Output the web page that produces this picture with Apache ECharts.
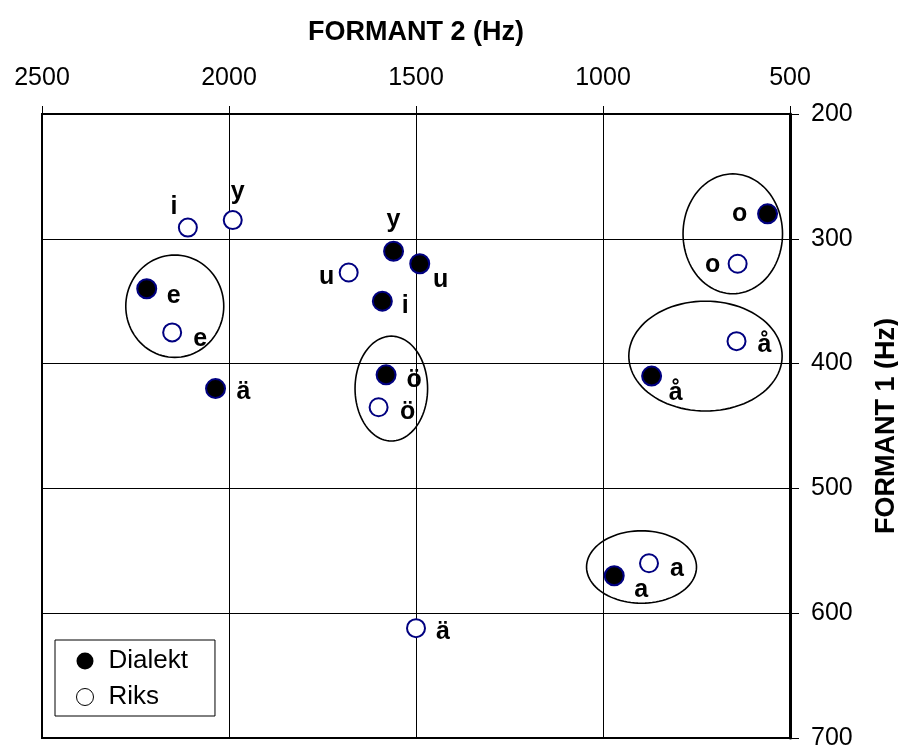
<!DOCTYPE html>
<html>
<head>
<meta charset="utf-8">
<script src="https://cdn.jsdelivr.net/npm/echarts@6/dist/echarts.min.js"></script>
<style>
  html, body { margin: 0; padding: 0; background: #fff; }
  #main { width: 898px; height: 749px; }
</style>
</head>
<body>
<div id="main"></div>
<script>
// Dialekt (filled)
var dialektVowels = ['o', 'y', 'u', 'e', 'i', 'ö', 'ä', 'å', 'a'];
var dialektF2 = [560, 1560, 1490, 2220, 1590, 1580, 2036, 870, 970];
var dialektF1 = [280, 310, 320, 340, 350, 409, 420, 410, 570];
// Riks (open)
var riksVowels = ['i', 'y', 'o', 'u', 'e', 'å', 'ö', 'a', 'ä'];
var riksF2 = [2110, 1990, 640, 1680, 2152, 643, 1600, 877, 1500];
var riksF1 = [291, 285, 320, 327, 375, 382, 435, 560, 612];
// ellipses round the pairs (centre and radii in Hz)
var groupF2 = [2145, 1566, 653, 726, 897];
var groupF1 = [354, 420, 296, 394, 563];
var groupRx = [131, 97, 133, 205, 147];
var groupRy = [41, 42, 48, 44, 29];
// tick labels
var f2Ticks = [2500, 2000, 1500, 1000, 500];
var f1Ticks = [200, 300, 400, 500, 600, 700];

// label offsets (px) from each point
var dialektOffsets = [[-28, 0], [0, -31], [21, 16], [27, 7], [23, 5], [28, 5], [28, 4], [24, 17], [27, 14]];
var riksOffsets = [[-14, -20], [5, -28], [-25, 1], [-22, 5], [28, 7], [28, 4], [29, 5], [28, 6], [27, 4]];

var FONT = 'Liberation Sans, Arial, sans-serif';
var labelFont = { fontFamily: FONT, fontWeight: 'bold', fontSize: 25, color: '#000' };

function buildPoints(f2, f1, names, offsets) {
  return f2.map(function (x, i) {
    return {
      value: [x, f1[i]],
      name: names[i],
      label: { offset: offsets[i] }
    };
  });
}

var chart = echarts.init(document.getElementById('main'));
var option = {
  animation: false,
  backgroundColor: '#fff',
  grid: {
    left: 42, right: 108, top: 114, bottom: 11,
    outerBoundsMode: 'none',
    containLabel: false,
    show: true, borderColor: '#000', borderWidth: 2, backgroundColor: '#fff'
  },
  legend: {
    orient: 'vertical',
    left: 55, top: 640,
    padding: [8, 27, 6, 21],
    itemGap: 10,
    itemWidth: 17, itemHeight: 17,
    backgroundColor: '#fff',
    borderColor: '#000', borderWidth: 1,
    textStyle: { fontFamily: FONT, fontSize: 26, color: '#000', padding: [0, 0, 0, 10] },
    data: [
      { name: 'Dialekt', icon: 'circle', itemStyle: { color: '#000', borderColor: '#000', borderWidth: 0 } },
      { name: 'Riks', icon: 'circle', itemStyle: { color: '#fff', borderColor: '#000', borderWidth: 1 } }
    ]
  },
  xAxis: {
    type: 'value', position: 'top', inverse: true,
    min: 500, max: 2500, interval: 500,
    name: 'FORMANT 2 (Hz)', nameLocation: 'middle', nameGap: 68,
    nameTextStyle: { fontFamily: FONT, fontWeight: 'bold', fontSize: 27, color: '#000' },
    axisLine: { show: true, lineStyle: { color: '#000', width: 2 } },
    axisTick: { show: true, length: 8, lineStyle: { color: '#000', width: 1 } },
    axisLabel: {
      margin: 23, fontFamily: FONT, fontSize: 25, color: '#000',
      formatter: function (v) { return f2Ticks.indexOf(v) >= 0 ? String(v) : ''; }
    },
    splitLine: { show: true, lineStyle: { color: '#000', width: 1 } }
  },
  yAxis: {
    type: 'value', position: 'right', inverse: true,
    min: 200, max: 700, interval: 100,
    name: 'FORMANT 1 (Hz)', nameLocation: 'middle', nameGap: 83, nameRotate: 90,
    nameTextStyle: { fontFamily: FONT, fontWeight: 'bold', fontSize: 27, color: '#000' },
    axisLine: { show: true, lineStyle: { color: '#000', width: 3 } },
    axisTick: { show: true, length: 9, lineStyle: { color: '#000', width: 1 } },
    axisLabel: {
      margin: 21, fontFamily: FONT, fontSize: 25, color: '#000',
      formatter: function (v) { return f1Ticks.indexOf(v) >= 0 ? String(v) : ''; }
    },
    splitLine: { show: true, lineStyle: { color: '#000', width: 1 } }
  },
  series: [
    {
      type: 'custom',
      silent: true,
      z: 3,
      data: groupF2.map(function (x, i) { return [x, groupF1[i], groupRx[i], groupRy[i]]; }),
      renderItem: function (params, api) {
        var cx = api.value(0), cy = api.value(1), rx = api.value(2), ry = api.value(3);
        var pts = [];
        for (var k = 0; k < 96; k++) {
          var t = k / 96 * Math.PI * 2;
          pts.push(api.coord([cx + rx * Math.cos(t), cy + ry * Math.sin(t)]));
        }
        return {
          type: 'polygon',
          shape: { points: pts },
          style: { fill: 'none', stroke: '#000', lineWidth: 1.6 }
        };
      }
    },
    {
      name: 'Dialekt',
      type: 'scatter',
      z: 4,
      symbol: 'circle',
      symbolSize: 19,
      itemStyle: { color: '#000', borderColor: '#000080', borderWidth: 2, opacity: 1 },
      label: Object.assign({ show: true, position: 'inside', formatter: '{b}' }, labelFont),
      data: buildPoints(dialektF2, dialektF1, dialektVowels, dialektOffsets)
    },
    {
      name: 'Riks',
      type: 'scatter',
      z: 4,
      symbol: 'circle',
      symbolSize: 18,
      itemStyle: { color: '#fff', borderColor: '#000080', borderWidth: 2, opacity: 1 },
      label: Object.assign({ show: true, position: 'inside', formatter: '{b}' }, labelFont),
      data: buildPoints(riksF2, riksF1, riksVowels, riksOffsets)
    }
  ]
};
chart.setOption(option);
</script>
</body>
</html>
